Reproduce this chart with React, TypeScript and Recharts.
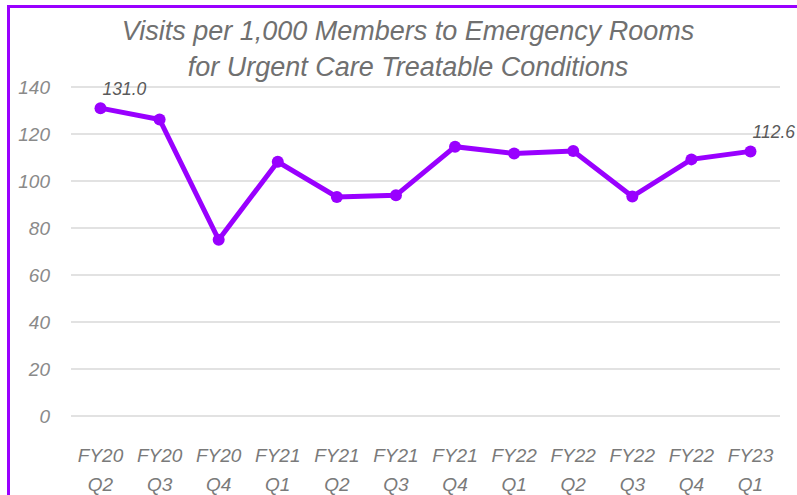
import React from "react";
import { LineChart, Line, XAxis, YAxis, CartesianGrid } from "recharts";

const quarters = ["FY20 Q2", "FY20 Q3", "FY20 Q4", "FY21 Q1", "FY21 Q2", "FY21 Q3", "FY21 Q4", "FY22 Q1", "FY22 Q2", "FY22 Q3", "FY22 Q4", "FY23 Q1"];
const visits = [131.0, 126.2, 75.0, 108.2, 93.2, 93.9, 114.6, 111.7, 112.8, 93.4, 109.2, 112.6];
const yTicks = [0, 20, 40, 60, 80, 100, 120, 140];
const labelled = [0, quarters.length - 1];

const data = quarters.map((q, i) => ({ quarter: q, visits: visits[i] }));

const PURPLE = "#9900ff";
const FONT = "'Liberation Sans', Arial, sans-serif";

function QuarterTick(props: any) {
  const { x, y, payload } = props;
  const [fy, q] = String(payload.value).split(" ");
  return (
    <text x={x} y={y} textAnchor="middle" fill="#7a7a7a" fontSize={19} fontStyle="italic" fontFamily={FONT}>
      <tspan x={x} dy={38}>{fy}</tspan>
      <tspan x={x} dy={28.5}>{q}</tspan>
    </text>
  );
}

function pointLabel(props: any) {
  const { x, y, value, index } = props;
  if (!labelled.includes(index)) return null;
  return (
    <text x={x + 2} y={y - 13} fill="#5a5a5a" fontSize={17.5} fontStyle="italic" fontFamily={FONT}>
      {Number(value).toFixed(1)}
    </text>
  );
}

export default function App() {
  return (
    <div style={{ position: "absolute", left: 0, top: 0, width: 797, height: 495, overflow: "hidden", background: "#fff" }}>
      <div style={{ position: "absolute", left: 7, top: 5, width: 820, height: 520, border: `3px solid ${PURPLE}` }} />
      <div
        style={{
          position: "absolute",
          left: 0,
          width: 816,
          top: 13,
          textAlign: "center",
          fontFamily: FONT,
          fontStyle: "italic",
          fontSize: 27,
          lineHeight: "36px",
          color: "#707070",
        }}
      >
        Visits per 1,000 Members to Emergency Rooms
        <br />
        for Urgent Care Treatable Conditions
      </div>
      <div style={{ position: "absolute", left: 0, top: 0 }}>
        <LineChart width={797} height={495} data={data} margin={{ top: 87, right: 17, bottom: 0, left: 0 }}>
          <CartesianGrid vertical={false} stroke="#d9d9d9" strokeWidth={1.5} />
          <XAxis
            dataKey="quarter"
            axisLine={false}
            tickLine={false}
            height={79}
            interval={0}
            padding={{ left: 29.5, right: 29.5 }}
            tick={<QuarterTick />}
          />
          <YAxis
            domain={[0, 140]}
            ticks={yTicks}
            axisLine={false}
            tickLine={false}
            tickSize={0}
            tickMargin={21}
            width={71}
            tick={{ fill: "#8a8a8a", fontSize: 19, fontStyle: "italic", fontFamily: FONT }}
          />
          <Line
            dataKey="visits"
            stroke={PURPLE}
            strokeWidth={5}
            dot={{ r: 6, fill: PURPLE, stroke: "none" }}
            label={pointLabel}
            isAnimationActive={false}
          />
        </LineChart>
      </div>
    </div>
  );
}
